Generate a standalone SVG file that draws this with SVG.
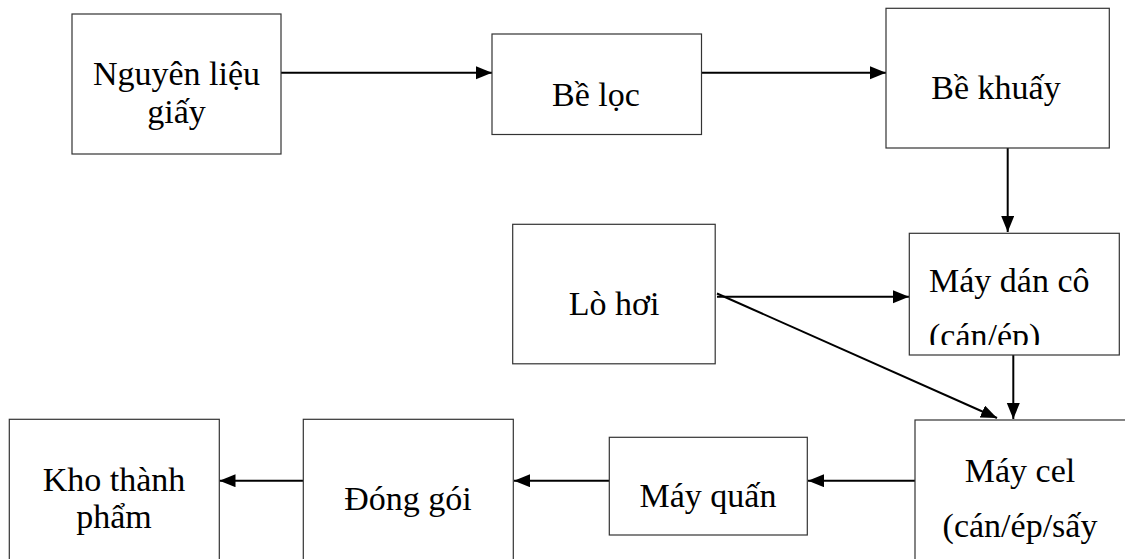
<svg xmlns="http://www.w3.org/2000/svg" width="1125" height="559" viewBox="0 0 1125 559">
  <style>
    .box { fill: #ffffff; stroke: #333333; stroke-width: 1.2; }
    .lbl { font-family: "Liberation Serif", "Times New Roman", serif; font-size: 34px; fill: #000000; }
    .mid { text-anchor: middle; }
    .conn { stroke: #000000; stroke-width: 2; fill: none; marker-end: url(#arrow); }
  </style>
  <defs>
    <marker id="arrow" markerUnits="userSpaceOnUse" markerWidth="17" markerHeight="14" refX="16" refY="6.5" orient="auto">
      <path d="M0,0 L16,6.5 L0,13 Z" fill="#000000"/>
    </marker>
    <clipPath id="clip-dan">
      <rect x="909" y="233" width="210" height="112"/>
    </clipPath>
  </defs>

  <rect width="1125" height="559" fill="#ffffff"/>

  <g id="connectors">
    <line class="conn" x1="281" y1="72.7" x2="492" y2="72.7"/>
    <line class="conn" x1="702" y1="72.7" x2="886" y2="72.7"/>
    <line class="conn" x1="1007.7" y1="140" x2="1007.7" y2="232"/>
    <line class="conn" x1="717" y1="296.7" x2="909" y2="296.7"/>
    <line class="conn" x1="717" y1="293.5" x2="997" y2="418"/>
    <line class="conn" x1="1013.3" y1="355" x2="1013.3" y2="419"/>
    <line class="conn" x1="915" y1="480.7" x2="808" y2="480.7"/>
    <line class="conn" x1="609" y1="480.7" x2="514" y2="480.7"/>
    <line class="conn" x1="303" y1="480.7" x2="219.5" y2="480.7"/>
  </g>

  <g id="nguyen-lieu">
    <rect class="box" x="72" y="14" width="209" height="140"/>
    <text class="lbl mid" x="176.5" y="85">Nguyên liệu</text>
    <text class="lbl mid" x="176.5" y="123">giấy</text>
  </g>

  <g id="be-loc">
    <rect class="box" x="492" y="34" width="209.5" height="100.5"/>
    <text class="lbl mid" x="596" y="106">Bề lọc</text>
  </g>

  <g id="be-khuay">
    <rect class="box" x="886" y="8.3" width="223.3" height="139.7"/>
    <text class="lbl mid" x="996" y="99">Bề khuấy</text>
  </g>

  <g id="lo-hoi">
    <rect class="box" x="512.7" y="224.3" width="202.5" height="139.5"/>
    <text class="lbl mid" x="614" y="315">Lò hơi</text>
  </g>

  <g id="may-dan-co">
    <rect class="box" x="909.3" y="233.3" width="210" height="121.7"/>
    <g clip-path="url(#clip-dan)">
      <text class="lbl" x="929" y="291.7">Máy dán cô</text>
      <text class="lbl" x="929" y="346.7">(cán/ép)</text>
    </g>
  </g>

  <g id="may-cel">
    <rect class="box" x="915" y="420" width="220" height="160"/>
    <text class="lbl mid" x="1020" y="481.7">Máy cel</text>
    <text class="lbl mid" x="1020" y="536.7">(cán/ép/sấy</text>
  </g>

  <g id="may-quan">
    <rect class="box" x="609.3" y="437.3" width="198" height="97.7"/>
    <text class="lbl mid" x="708" y="507.3">Máy quấn</text>
  </g>

  <g id="dong-goi">
    <rect class="box" x="303.3" y="419.3" width="210" height="160"/>
    <text class="lbl mid" x="408" y="510">Đóng gói</text>
  </g>

  <g id="kho-thanh-pham">
    <rect class="box" x="9.3" y="419.3" width="210" height="160"/>
    <text class="lbl mid" x="114" y="490.7">Kho thành</text>
    <text class="lbl mid" x="114" y="528">phẩm</text>
  </g>
</svg>
